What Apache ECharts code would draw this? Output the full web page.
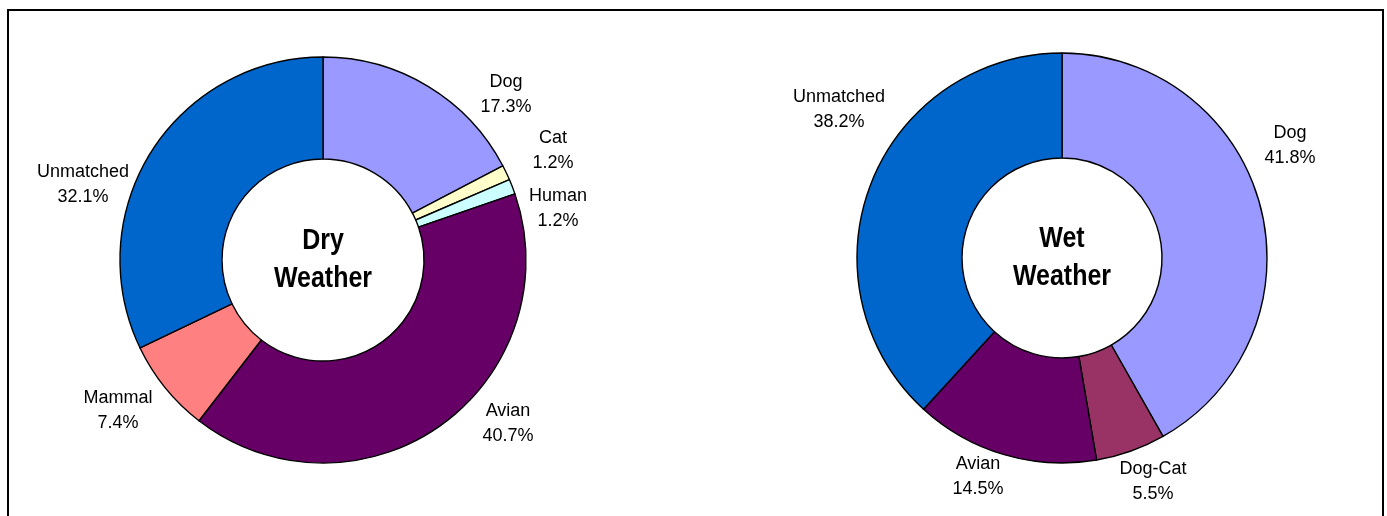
<!DOCTYPE html>
<html>
<head>
<meta charset="utf-8">
<title>Source matches by weather</title>
<script src="https://cdn.jsdelivr.net/npm/echarts@6/dist/echarts.min.js"></script>
<style>
  html, body { margin: 0; padding: 0; background: #fff; }
  #chart { width: 1387px; height: 516px; }
</style>
</head>
<body>
<div id="chart"></div>
<script>
// Dry weather source breakdown (percent of isolates)
const dryCategories = ['Dog', 'Cat', 'Human', 'Avian', 'Mammal', 'Unmatched'];
const dryValues = [17.3, 1.2, 1.2, 40.7, 7.4, 32.1];

// Wet weather source breakdown (percent of isolates)
const wetCategories = ['Dog', 'Dog-Cat', 'Avian', 'Unmatched'];
const wetValues = [41.8, 5.5, 14.5, 38.2];

// Fill colour for each source
const sourceColors = {
  'Dog': '#9999FF',
  'Cat': '#FFFFCC',
  'Human': '#CCFFFF',
  'Avian': '#660066',
  'Mammal': '#FF8080',
  'Unmatched': '#0066CC',
  'Dog-Cat': '#993366'
};

// Ring geometry and label placement (offsets of each label block from the ring centre)
const rings = [
  {
    center: [323, 260], radius: [101, 203], title: 'Dry\nWeather',
    categories: dryCategories, values: dryValues,
    labelOffsets: { 'Dog': [183, -165], 'Cat': [230, -109], 'Human': [235, -51],
                    'Avian': [185, 164], 'Mammal': [-205, 151], 'Unmatched': [-240, -75] }
  },
  {
    center: [1062, 258], radius: [100, 205], title: 'Wet\nWeather',
    categories: wetCategories, values: wetValues,
    labelOffsets: { 'Dog': [228, -112], 'Dog-Cat': [91, 224], 'Avian': [-84, 219],
                    'Unmatched': [-223, -148] }
  }
];

const labelFont = "'Liberation Sans', Arial, sans-serif";

const series = rings.map(function (ring) {
  return {
    type: 'pie',
    center: ring.center,
    radius: ring.radius,
    startAngle: 90,
    clockwise: true,
    avoidLabelOverlap: false,
    silent: true,
    animation: false,
    itemStyle: { borderColor: '#000', borderWidth: 1.4 },
    label: {
      show: true,
      position: 'outside',
      color: '#000',
      fontFamily: labelFont,
      fontSize: 18,
      lineHeight: 25,
      align: 'center',
      formatter: function (p) { return p.name + '\n' + p.value.toFixed(1) + '%'; }
    },
    labelLine: { show: false },
    labelLayout: function (p) {
      const off = ring.labelOffsets[ring.categories[p.dataIndex]];
      return {
        x: ring.center[0] + off[0],
        y: ring.center[1] + off[1],
        align: 'center',
        verticalAlign: 'middle'
      };
    },
    data: ring.categories.map(function (name, i) {
      return { name: name, value: ring.values[i], itemStyle: { color: sourceColors[name] } };
    })
  };
});

// Outer frame plus the tall, tight bold caption in each ring's hole
const graphics = [
  {
    type: 'rect',
    shape: { x: 8, y: 10, width: 1375, height: 530 },
    style: { fill: null, stroke: '#000', lineWidth: 2 },
    silent: true
  }
].concat(rings.map(function (ring) {
  return {
    type: 'text',
    x: ring.center[0],
    y: ring.center[1],
    scaleY: 1.15,
    style: {
      text: ring.title,
      fill: '#000',
      font: "bold 25px 'Liberation Sans', Arial, sans-serif",
      lineHeight: 33,
      textAlign: 'center',
      textVerticalAlign: 'middle'
    },
    silent: true
  };
}));

const chart = echarts.init(document.getElementById('chart'), null, { renderer: 'canvas' });
chart.setOption({
  backgroundColor: '#fff',
  animation: false,
  series: series,
  graphic: graphics
});
</script>
</body>
</html>
